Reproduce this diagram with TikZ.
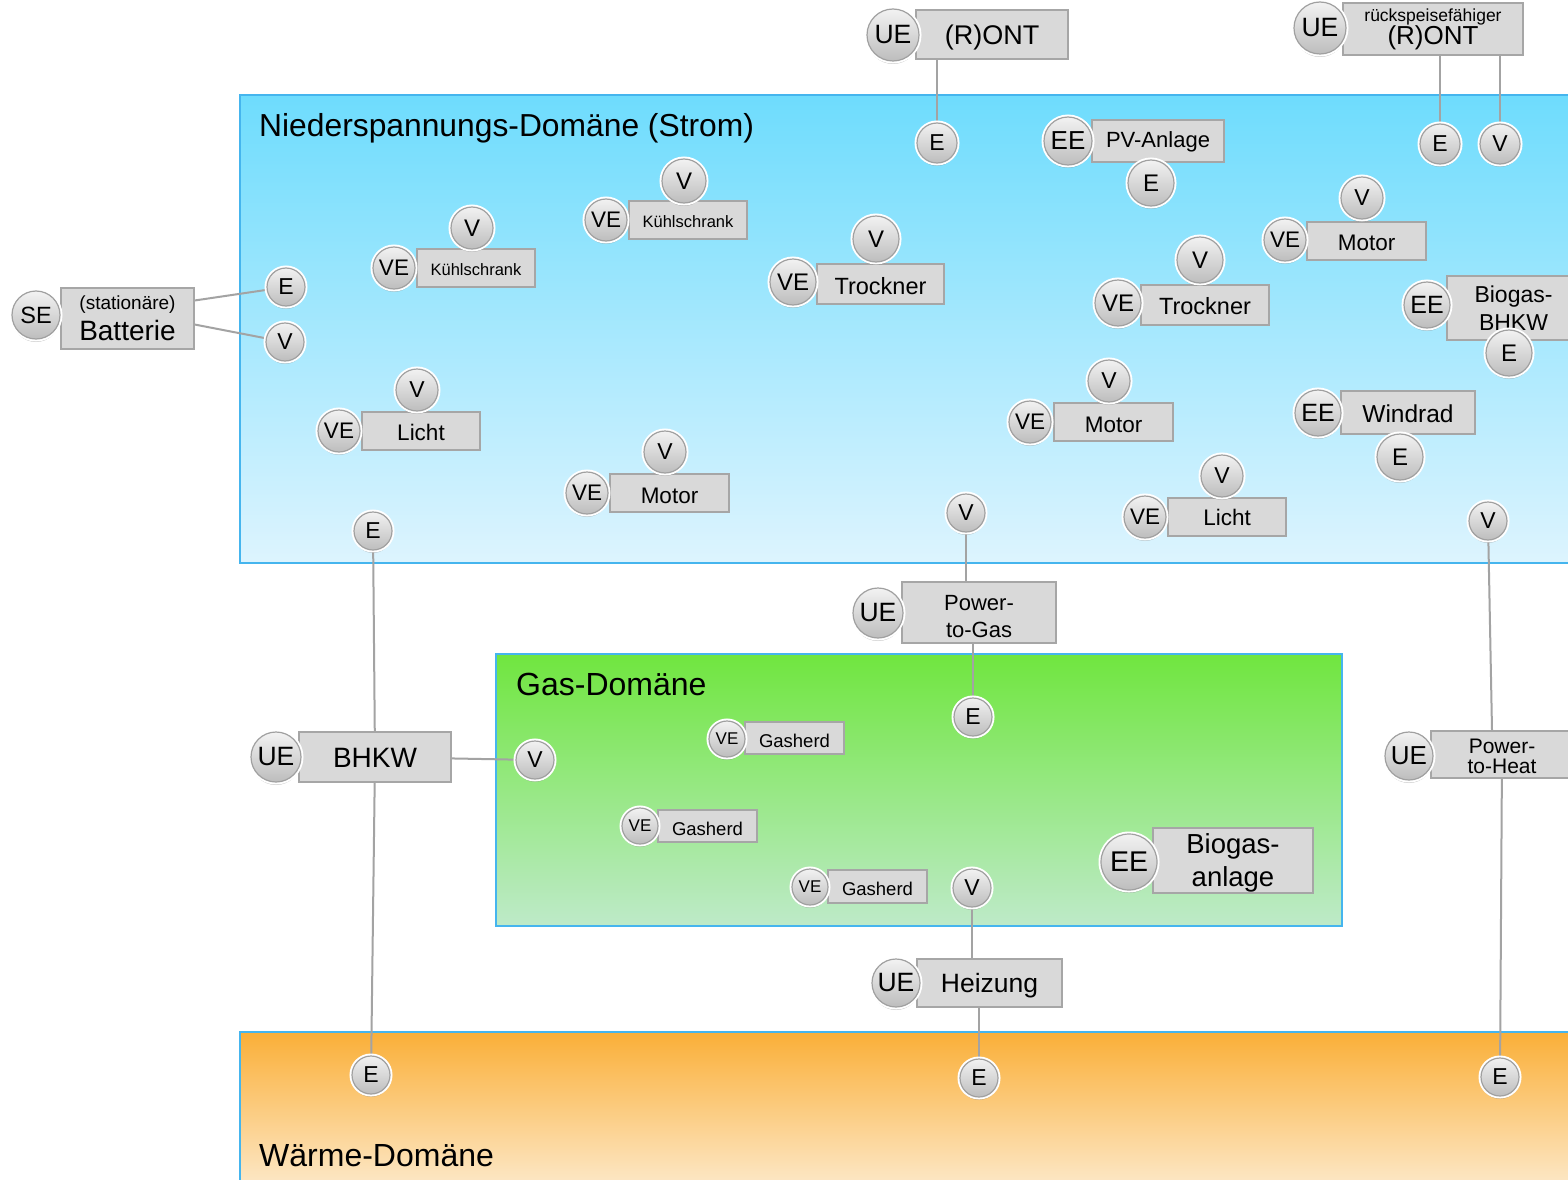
\documentclass[tikz,border=0pt]{standalone}
\usepackage{fontspec}
\setmainfont{Liberation Sans}
\usetikzlibrary{shadows}
\definecolor{bluetop}{HTML}{6EDCFD}
\definecolor{bluebot}{HTML}{DDF4FE}
\definecolor{greentop}{HTML}{70E63F}
\definecolor{greenbot}{HTML}{BEEAC9}
\definecolor{orangetop}{HTML}{FAAF38}
\definecolor{orangebot}{HTML}{FDF1DE}
\definecolor{domline}{HTML}{45B5EE}
\definecolor{boxfill}{HTML}{D9D9D9}
\definecolor{boxline}{HTML}{A6A6A6}
\definecolor{balltop}{HTML}{F2F2F2}
\definecolor{ballbot}{HTML}{BDBDBD}
\definecolor{ballline}{HTML}{A0A0A0}
\definecolor{conn}{HTML}{A3A3A3}
\pgfdeclarelayer{dom}
\pgfdeclarelayer{lines}
\pgfsetlayers{dom,lines,main}
\newcommand{\lowtxt}[2][2pt]{\raisebox{-#1}[\height][\depth]{#2}}
\begin{document}
\begin{tikzpicture}[x=1pt,y=-1pt,
  fs/.style={font=\fontsize{#1}{#1}\selectfont},
  ball/.style={circle, inner sep=0pt, draw=ballline, line width=1.2pt,
    top color=balltop, bottom color=ballbot,
    drop shadow={shadow xshift=0pt, shadow yshift=-3pt, opacity=0.3, fill=black!70},
    preaction={draw=white, line width=5pt}},
  rad/.style={minimum size=2*#1},
  bx/.style={draw=boxline, fill=boxfill, line width=1.2pt, inner sep=0pt, align=center},
  bsize/.style 2 args={minimum width=#1, minimum height=#2},
  dombox/.style={draw=domline, line width=2pt},
  cn/.style={draw=conn, line width=2pt},
  title/.style={anchor=base west, inner sep=0pt, font=\fontsize{#1}{#1}\selectfont}]
\clip (0,0) rectangle (1568,1180);

\begin{pgfonlayer}{dom}
\fill[white] (0,0) rectangle (1568,1180);
\path[dombox, top color=bluetop, bottom color=bluebot] (240,95) rectangle (1590,563);
\path[dombox, top color=greentop, bottom color=greenbot] (496,654) rectangle (1342,926);
\path[dombox, top color=orangetop, bottom color=orangebot] (240,1032) rectangle (1590,1210);
\end{pgfonlayer}

\node[title=31.8] (t1) at (259,136) {Niederspannungs-Domäne (Strom)};
\node[title=32] (t2) at (516,695) {Gas-Domäne};
\node[title=32] (t3) at (259,1166) {Wärme-Domäne};

% boxes
\node[bx, bsize={152}{49}, fs=27] (ront1) at (992,34.5) {\lowtxt[3pt]{(R)ONT}};
\node[bx, bsize={180}{52}, font=\fontsize{26}{23}\selectfont] (ront2) at (1433,29)
  {{\fontsize{17.5}{17.5}\selectfont rückspeisefähiger}\\(R)ONT};
\node[bx, bsize={132}{42}, fs=22] (pv) at (1158,141) {\lowtxt[1pt]{PV-Anlage}};
\node[bx, bsize={118}{38}, fs=16.5] (k1) at (688,220) {\lowtxt{Kühlschrank}};
\node[bx, bsize={118}{38}, fs=16.5] (k2) at (476,268) {\lowtxt{Kühlschrank}};
\node[bx, bsize={127}{40}, fs=23.5] (tr1) at (880.5,284) {\lowtxt{Trockner}};
\node[bx, bsize={128}{40}, fs=23.5] (tr2) at (1205,305) {\lowtxt[1pt]{Trockner}};
\node[bx, bsize={119}{38}, fs=22.5] (m1) at (1366.5,241) {\lowtxt{Motor}};
\node[bx, bsize={133}{64}, font=\fontsize{23}{28}\selectfont] (bb) at (1513.5,308) {Biogas-\\BHKW};
\node[bx, bsize={133}{61}, font=\fontsize{28}{31}\selectfont] (bat) at (127.5,318.5) {{\fontsize{19}{19}\selectfont (stationäre)}\\Batterie};
\node[bx, bsize={118}{38}, fs=22.5] (l1) at (421,431) {\lowtxt[1pt]{Licht}};
\node[bx, bsize={119}{38}, fs=22.5] (m2) at (669.5,493) {\lowtxt[3pt]{Motor}};
\node[bx, bsize={119}{38}, fs=22.5] (m3) at (1113.5,422) {\lowtxt[3pt]{Motor}};
\node[bx, bsize={134}{43}, fs=24.5] (wr) at (1408,412.5) {\lowtxt[1pt]{Windrad}};
\node[bx, bsize={118}{38}, fs=22.5] (l2) at (1227,517) {Licht};
\node[bx, bsize={154}{61}, font=\fontsize{22}{27}\selectfont] (p2g) at (979,612.5) {\lowtxt[4pt]{Power-}\\\lowtxt[4pt]{to-Gas}};
\node[bx, bsize={152}{50}, fs=28] (bhkw) at (375,757) {\lowtxt[1pt]{BHKW}};
\node[bx, bsize={142}{47}, font=\fontsize{21}{20}\selectfont] (p2h) at (1502,754.5) {\lowtxt{Power-}\\\lowtxt{to-Heat}};
\node[bx, bsize={99}{32}, fs=18.5] (g1) at (794.5,738) {\lowtxt[3pt]{Gasherd}};
\node[bx, bsize={99}{32}, fs=18.5] (g2) at (707.5,826) {\lowtxt[3pt]{Gasherd}};
\node[bx, bsize={99}{33}, fs=18.5] (g3) at (877.5,886.5) {\lowtxt{Gasherd}};
\node[bx, bsize={160}{65}, font=\fontsize{27.5}{33}\selectfont] (bga) at (1233,860.5) {\lowtxt[2.5pt]{Biogas-}\\\lowtxt[2.5pt]{anlage}};
\node[bx, bsize={145}{48}, fs=26.5] (heiz) at (989.5,983) {\lowtxt[3pt]{Heizung}};

% circles
\node[ball, rad=26, fs=26.5] (ue1) at (893,35) {UE};
\node[ball, rad=26, fs=26.5] (ue2) at (1320,28) {UE};
\node[ball, rad=20, fs=23] (e1) at (937,143) {E};
\node[ball, rad=20, fs=23] (e2) at (1440,144) {E};
\node[ball, rad=20, fs=23] (v2) at (1500,144) {V};
\node[ball, rad=24, fs=26] (eepv) at (1068,141) {EE};
\node[ball, rad=23, fs=24] (epv) at (1151,183) {E};
\node[ball, rad=22, fs=24] (vk1) at (684,181) {V};
\node[ball, rad=21, fs=22.5] (vek1) at (606,220) {VE};
\node[ball, rad=21, fs=24] (vk2) at (472,228) {V};
\node[ball, rad=21, fs=22.5] (vek2) at (394,268) {VE};
\node[ball, rad=23, fs=24] (vt1) at (876,239) {V};
\node[ball, rad=23, fs=24] (vet1) at (793,282) {VE};
\node[ball, rad=23, fs=24] (vt2) at (1200,260) {V};
\node[ball, rad=23, fs=24] (vet2) at (1118,303) {VE};
\node[ball, rad=21, fs=23] (vm1) at (1362,198) {V};
\node[ball, rad=21, fs=22.5] (vem1) at (1285,240) {VE};
\node[ball, rad=23, fs=25] (eebb) at (1427,305) {EE};
\node[ball, rad=23, fs=24] (ebb) at (1509,353) {E};
\node[ball, rad=24, fs=23.5] (se) at (36,315) {SE};
\node[ball, rad=19, fs=23] (ebat) at (286,287) {E};
\node[ball, rad=19, fs=23] (vbat) at (285,342) {V};
\node[ball, rad=21, fs=23] (vl1) at (417,390) {V};
\node[ball, rad=21, fs=22.5] (vel1) at (339,431) {VE};
\node[ball, rad=21, fs=23] (vm2) at (665,452) {V};
\node[ball, rad=21, fs=22.5] (vem2) at (587,493) {VE};
\node[ball, rad=21, fs=23] (vm3) at (1109,381) {V};
\node[ball, rad=21, fs=22.5] (vem3) at (1030,422) {VE};
\node[ball, rad=23, fs=25] (eew) at (1318,413) {EE};
\node[ball, rad=23, fs=24] (ew) at (1400,457) {E};
\node[ball, rad=21, fs=23] (vl2) at (1222,476) {V};
\node[ball, rad=21, fs=22.5] (vel2) at (1145,517) {VE};
\node[ball, rad=19, fs=23] (ebh) at (373,531) {E};
\node[ball, rad=19, fs=23] (vp2g) at (966,513) {V};
\node[ball, rad=19, fs=23] (vp2h) at (1488,521) {V};
\node[ball, rad=25, fs=26.5] (uep2g) at (878,613) {UE};
\node[ball, rad=25, fs=26.5] (uebhkw) at (276,757) {UE};
\node[ball, rad=24, fs=26] (uep2h) at (1409,756) {UE};
\node[ball, rad=19, fs=23] (egas) at (973,717) {E};
\node[ball, rad=19, fs=23] (vgas) at (535,760) {V};
\node[ball, rad=18, fs=17] (veg1) at (727,739) {VE};
\node[ball, rad=18, fs=17] (veg2) at (640,826) {VE};
\node[ball, rad=18, fs=17] (veg3) at (810,887) {VE};
\node[ball, rad=19, fs=23] (vgh) at (972,888) {V};
\node[ball, rad=28, fs=28.5] (eebga) at (1129,862) {EE};
\node[ball, rad=24, fs=26.5] (ueheiz) at (896,983) {UE};
\node[ball, rad=19, fs=23] (ew1) at (371,1075) {E};
\node[ball, rad=19, fs=23] (ew2) at (979,1078) {E};
\node[ball, rad=19, fs=23] (ew3) at (1500,1077) {E};

% connectors (behind nodes)
\begin{pgfonlayer}{lines}
\draw[cn] (e1 |- ront1.south) -- (e1);
\draw[cn] (e2 |- ront2.south) -- (e2);
\draw[cn] (v2 |- ront2.south) -- (v2);
\draw[cn] ([yshift=18pt]bat.east) -- (ebat);
\draw[cn] ([yshift=-6pt]bat.east) -- (vbat);
\draw[cn] (ebh) -- (bhkw);
\draw[cn] (bhkw) -- (ew1);
\draw[cn] (bhkw) -- (vgas);
\draw[cn] (vp2g) -- (vp2g |- p2g.north);
\draw[cn] (egas |- p2g.south) -- (egas);
\draw[cn] (vp2h) -- ([xshift=-10pt]p2h.north);
\draw[cn] (p2h) -- (ew3);
\draw[cn] (vgh) -- (vgh |- heiz.north);
\draw[cn] (ew2 |- heiz.south) -- (ew2);
\end{pgfonlayer}
\end{tikzpicture}
\end{document}
